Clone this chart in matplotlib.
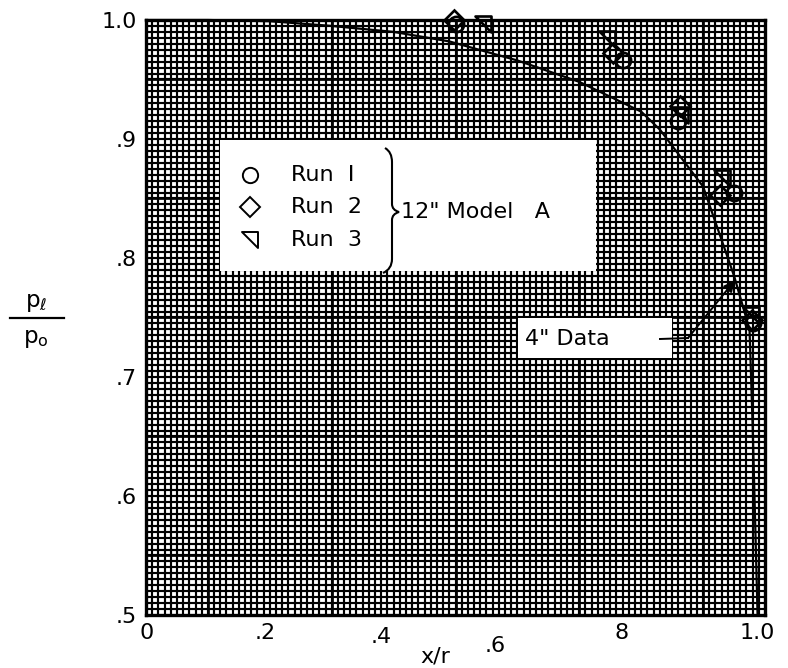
import numpy as np
import matplotlib
matplotlib.use("Agg")
import matplotlib.pyplot as plt
from matplotlib.path import Path
from matplotlib.patches import Rectangle, PathPatch

plt.rcParams['font.family'] = ['DejaVu Sans']

# 4" model reference curve
curve_x = [0.0, 0.10, 0.20, 0.30, 0.40, 0.49, 0.60, 0.70, 0.80, 0.83, 0.90, 0.95, 0.975, 0.980, 0.985, 0.988]
curve_y = [1.0, 1.0, 0.999, 0.995, 0.990, 0.982, 0.966, 0.948, 0.923, 0.908, 0.860, 0.785, 0.740, 0.660, 0.560, 0.500]

# 12" Model A runs
run1_x = [0.500, 0.770, 0.860, 0.950, 0.981]
run1_y = [0.997, 0.966, 0.915, 0.855, 0.745]
run2_x = [0.497, 0.755, 0.863, 0.928, 0.979]
run2_y = [1.000, 0.972, 0.928, 0.853, 0.748]
run3_x = [0.545, 0.745, 0.862, 0.930, 0.978]
run3_y = [0.997, 0.984, 0.920, 0.867, 0.752]

xtick_labels = ['0', '.2', '.4', '.6', '8', '1.0']
ytick_values = [1.0, 0.9, 0.8, 0.7, 0.6, 0.5]
ytick_labels = ['1.0', '.9', '.8', '.7', '.6', '.5']
run_labels = ['Run  I', 'Run  2', 'Run  3']

FS = 16
W, H = 788, 668
fig = plt.figure(figsize=(W / 100, H / 100), dpi=100)
AX_L, AX_R, AX_T, AX_B = 146, 765, 20, 615
ax = fig.add_axes([AX_L / W, 1 - AX_B / H, (AX_R - AX_L) / W, (AX_B - AX_T) / H])
ax.set_xlim(0, 1.0)
ax.set_ylim(0.5, 1.0)
ax.set_xticks([])
ax.set_yticks([])
for s in ax.spines.values():
    s.set_linewidth(2.4)
    s.set_color('black')
    s.set_zorder(10)


def fx(px):
    return px / W


def fy(py):
    return 1 - py / H


def px_to_axes(px, py):
    return (px - AX_L) / (AX_R - AX_L), (AX_B - py) / (AX_B - AX_T)


# graph-paper ruling
for xv in np.arange(0.01, 1.0, 0.01):
    ax.axvline(xv, color='black', lw=1.55, zorder=0)
for yv in np.arange(0.505, 1.0, 0.005):
    ax.axhline(yv, color='black', lw=1.55, zorder=0)
for xv in [0.1, 0.3, 0.5, 0.7, 0.9]:
    ax.axvline(xv, color='black', lw=1.95, zorder=0)
for yv in [0.55, 0.65, 0.75, 0.85, 0.95]:
    ax.axhline(yv, color='black', lw=1.95, zorder=0)

# white panels for key and note
x0, y0 = px_to_axes(220, 271)
x1, y1 = px_to_axes(596, 140)
ax.add_patch(Rectangle((x0, y0), x1 - x0, y1 - y0, transform=ax.transAxes,
                       facecolor='white', edgecolor='none', zorder=2))
x0, y0 = px_to_axes(518, 358)
x1, y1 = px_to_axes(672, 318)
ax.add_patch(Rectangle((x0, y0), x1 - x0, y1 - y0, transform=ax.transAxes,
                       facecolor='white', edgecolor='none', zorder=2))

# reference curve
ax.plot(curve_x, curve_y, color='black', lw=1.6, zorder=3, clip_on=False)

tri = Path([(-1, 1), (1, 1), (1, -1), (-1, 1)],
           [Path.MOVETO, Path.LINETO, Path.LINETO, Path.CLOSEPOLY])
mk = dict(ls='none', mfc='none', mec='black', mew=1.9, zorder=4, clip_on=False)
ax.plot(run1_x, run1_y, marker='o', ms=11, **mk)
ax.plot(run2_x, run2_y, marker='D', ms=10, **mk)
ax.plot(run3_x, run3_y, marker=tri, ms=11, **mk)

# key
key_rows = [175, 207, 240]
for row, lab, m, ms in zip(key_rows, run_labels, ['o', 'D', tri], [11, 10, 11]):
    kx, ky = px_to_axes(250, row)
    ax.plot([kx], [ky], transform=ax.transAxes, marker=m, ms=ms, ls='none',
            mfc='none', mec='black', mew=1.4, zorder=5)
    fig.text(fx(291), fy(row), lab, fontsize=FS, ha='left', va='center')

# brace
bx, top, mid, bot = 392, 148, 212, 273
brace_px = [(385, top), (392, top + 4), (bx, top + 14),
            (bx, mid - 8), (bx, mid - 2), (bx + 7, mid),
            (bx, mid + 2), (bx, mid + 8),
            (bx, bot - 14), (392, bot - 4), (383, bot)]
codes = [Path.MOVETO, Path.CURVE3, Path.CURVE3,
         Path.LINETO, Path.CURVE3, Path.CURVE3,
         Path.CURVE3, Path.CURVE3,
         Path.LINETO, Path.CURVE3, Path.CURVE3]
brace_fig = [(fx(p[0]), fy(p[1])) for p in brace_px]
fig.add_artist(PathPatch(Path(brace_fig, codes), transform=fig.transFigure,
                         facecolor='none', edgecolor='black', lw=1.5, zorder=6))
fig.text(fx(401), fy(212), '12" Model   A', fontsize=FS, ha='left', va='center')

# 4" data note with leader
fig.text(fx(525), fy(339), '4" Data', fontsize=FS, ha='left', va='center')
fig.add_artist(plt.Line2D([fx(660), fx(688)], [fy(339), fy(338)],
                          transform=fig.transFigure, color='black', lw=1.4))
ax.annotate('', xy=(0.951, 0.781), xycoords='data',
            xytext=(fx(688), fy(338)), textcoords='figure fraction',
            arrowprops=dict(arrowstyle='-|>', color='black', lw=1.4,
                            mutation_scale=16, shrinkA=0, shrinkB=0), zorder=6)

# axis labels
xlab_px = [147, 265, 381, 495, 622, 757]
xlab_py = [633, 633, 637, 646, 633, 633]
for lab, px, py in zip(xtick_labels, xlab_px, xlab_py):
    fig.text(fx(px), fy(py), lab, fontsize=FS, ha='center', va='center')
fig.text(fx(435), fy(656), 'x/r', fontsize=FS, ha='center', va='center')

for val, lab in zip(ytick_values, ytick_labels):
    py = AX_T + (1.0 - val) * (AX_B - AX_T) / 0.5 + 2
    fig.text(fx(137), fy(py), lab, fontsize=FS, ha='right', va='center')

fig.text(fx(36), fy(302), r'$\mathregular{p_{\ell}}$', fontsize=16.5, ha='center', va='center')
fig.add_artist(plt.Line2D([fx(10), fx(64)], [fy(318), fy(318)],
                          transform=fig.transFigure, color='black', lw=1.6))
fig.text(fx(36), fy(338), r'$\mathregular{p_{o}}$', fontsize=16.5, ha='center', va='center')

fig.savefig('out.png', dpi=100, facecolor='white')
